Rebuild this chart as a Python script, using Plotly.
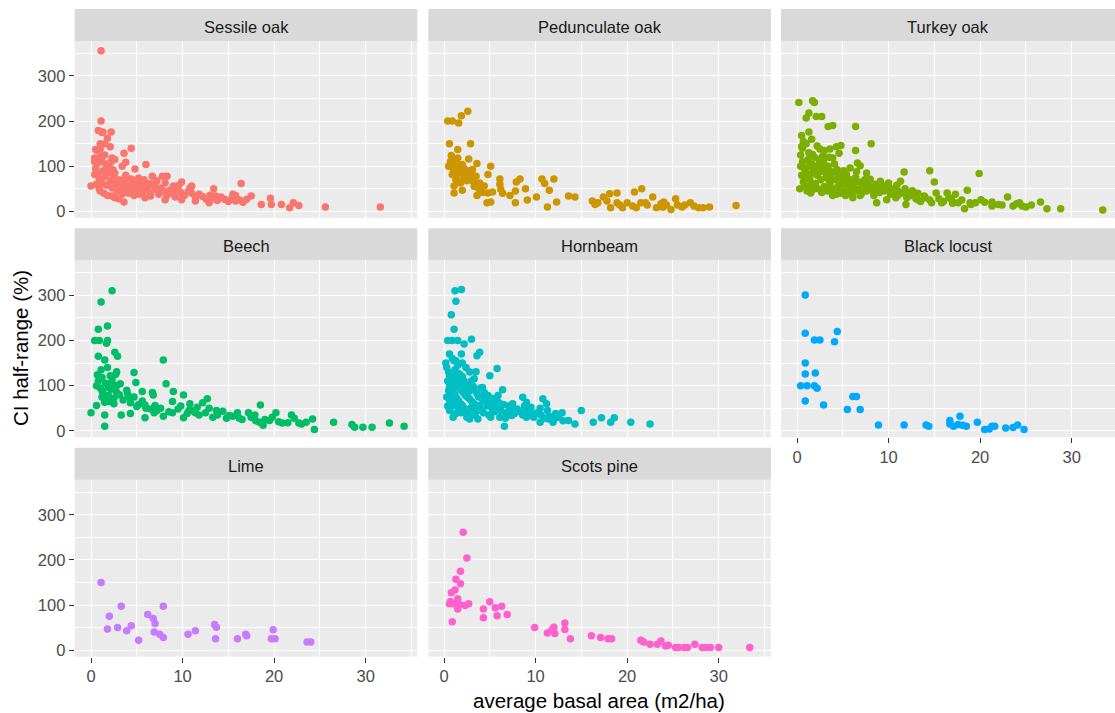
import plotly.graph_objects as go

species = ["Sessile oak", "Pedunculate oak", "Turkey oak", "Beech",
           "Hornbeam", "Black locust", "Lime", "Scots pine"]
colors = ["#F8766D", "#CD9600", "#7CAE00", "#00BE67",
          "#00BFC4", "#00A9FF", "#C77CFF", "#FF61CC"]

x_ticks = [0, 10, 20, 30]
y_ticks = [0, 100, 200, 300]

sessile_x = [1.1, 1.1, 0.8, 1.3, 2.2, 1.8, 1.5, 2.1, 0.5, 1.0, 4.4, 3.6, 0.4, 1.2, 2.3, 2.6, 0.8, 3.8, 1.9, 6.0,
             4.8, 3.4, 0.4, 2.6, 6.7, 7.8, 8.3, 0.0, 1.2, 3.7, 5.2, 5.6, 7.0, 9.9, 11.0, 16.4, 13.4, 2.3, 3.6, 4.8,
             6.5, 8.1, 9.9, 11.4, 12.9, 13.6, 15.5, 15.8, 17.5, 18.6, 19.6, 19.7, 20.8, 21.7, 22.1, 22.7, 25.6, 31.6,
             0.5, 0.7, 0.9, 1.1, 1.3, 1.5, 1.7, 1.9, 2.1, 2.3, 2.5, 2.7, 2.9, 3.1, 3.3, 3.5, 3.7, 3.9, 4.1, 4.3,
             4.5, 4.7, 4.9, 5.1, 5.3, 5.5, 5.7, 5.9, 6.2, 6.5, 6.8, 7.1, 7.4, 7.7, 8.0, 8.3, 8.6, 8.9, 9.2, 9.5,
             9.8, 10.2, 10.6, 11.0, 11.4, 11.8, 12.2, 12.6, 13.0, 13.4, 13.8, 14.2, 14.6, 15.0, 15.4, 15.8, 16.2,
             16.6, 17.0, 0.4, 0.8, 1.2, 1.6, 2.0, 2.4, 1.0, 1.4, 1.8, 2.6, 3.0, 3.4, 0.6, 0.9, 2.2, 1.5, 1.0, 1.2,
             0.7, 3.8, 4.4, 5.0, 5.8, 6.4, 7.2, 8.1, 9.0, 9.6, 10.8]
sessile_y = [356, 200, 179, 176, 176, 162, 150, 143, 137, 138, 140, 129, 118, 122, 118, 115, 107, 109, 100, 104,
             94, 100, 82, 85, 78, 78, 78, 56, 63, 71, 74, 60, 56, 65, 56, 62, 50, 34, 21, 41,
             34, 26, 26, 23, 19, 34, 38, 23, 34, 15, 29, 15, 15, 8, 19, 13, 10, 10,
             95, 85, 72, 65, 90, 78, 58, 85, 68, 52, 75, 60, 45, 70, 55, 42, 63, 50, 40, 58,
             47, 35, 60, 45, 38, 52, 44, 30, 50, 42, 60, 48, 38, 52, 44, 35, 47, 40, 32, 48,
             42, 35, 44, 40, 30, 38, 33, 27, 36, 28, 24, 32, 27, 22, 30, 35, 25,
             20, 27, 110, 118, 112, 105, 98, 92, 45, 40, 35, 30, 28, 38, 60, 50, 110, 125, 150, 175,
             135, 80, 72, 65, 70, 62, 68, 63, 56, 58, 52]

pedunculate_x = [0.4, 0.9, 1.6, 1.9, 2.6, 0.6, 1.5, 2.9, 0.8, 1.5, 2.7, 3.6, 0.5, 1.1, 2.0, 5.1, 1.8, 2.4, 3.1, 1.3,
                 2.2, 3.5, 4.8, 6.1, 8.3, 10.7, 12.0, 1.8, 3.9, 6.1, 7.9, 11.0, 1.1, 4.4, 6.2, 8.9, 11.5, 1.1, 2.0,
                 3.6, 4.8, 5.3, 7.2, 7.8, 6.4, 10.1, 9.1, 7.8, 4.7, 5.1, 11.3, 12.3, 13.6, 14.3, 16.2, 16.5, 17.4,
                 18.1, 18.9, 17.8, 18.2, 18.9, 19.5, 20.0, 20.8, 21.6, 20.6, 21.5, 22.2, 22.8, 23.2, 23.7, 24.3,
                 24.8, 25.3, 25.5, 26.3, 26.9, 27.8, 28.3, 29.0, 31.9,
                 0.7, 1.0, 1.2, 1.4, 1.6, 1.8, 2.0, 2.2, 2.4, 2.6, 2.8, 3.0, 1.3, 1.7, 2.1, 2.5, 3.2, 0.9, 1.1,
                 3.3, 3.8, 4.2, 16.8, 19.2, 22.0, 23.9, 26.0, 27.3, 21.0, 24.0]
pedunculate_y = [200, 200, 196, 212, 222, 150, 137, 150, 124, 118, 116, 106, 100, 101, 104, 100, 89, 89, 93, 78,
                 78, 78, 82, 72, 72, 72, 72, 63, 63, 60, 65, 62, 56, 56, 49, 50, 47, 41, 47,
                 35, 41, 43, 35, 45, 40, 32, 25, 19, 19, 21, 10, 21, 34, 32, 23, 15, 32,
                 39, 41, 23, 8, 19, 8, 19, 43, 50, 12, 19, 14, 32, 8, 17, 14,
                 4, 28, 14, 14, 19, 8, 8, 10, 13,
                 110, 95, 88, 105, 92, 98, 85, 95, 82, 90, 74, 85, 70, 66, 72, 68, 66, 82, 115,
                 55, 50, 42, 19, 14, 19, 9, 10, 12, 8, 21]

turkey_x = [0.2, 1.7, 1.9, 1.3, 1.0, 2.1, 2.7, 3.4, 3.9, 6.4, 1.3, 0.5, 0.7, 0.5, 8.1, 2.5, 3.6, 4.3, 4.8, 4.6,
            6.4, 1.7, 2.8, 3.9, 6.6, 0.4, 1.3, 2.4, 5.8, 6.9, 11.7, 14.5, 19.9, 15.0, 0.8, 1.7, 3.2, 4.7, 7.6,
            8.0, 9.1, 10.0, 11.3, 0.3, 1.5, 3.2, 4.3, 5.8, 6.9, 8.4, 9.5, 11.0, 12.6, 8.7, 9.8, 10.8, 11.9, 13.2,
            13.9, 14.7, 15.2, 15.8, 16.4, 16.9, 17.3, 17.6, 18.3, 18.6, 18.9, 19.5, 20.1, 21.3, 21.3, 22.4, 23.0,
            23.6, 24.3, 24.6, 25.6, 26.6, 27.3, 28.8, 33.4,
            0.4, 0.6, 0.8, 1.0, 1.2, 1.4, 1.6, 1.8, 2.0, 2.2, 2.4, 2.6, 2.8, 3.0, 3.2, 3.4, 3.6, 3.8, 4.0, 4.2,
            4.4, 4.6, 4.8, 5.0, 5.2, 5.4, 5.6, 5.8, 6.0, 6.2, 6.4, 6.6, 6.8, 7.0, 7.2, 7.4, 7.6, 7.8, 8.2, 8.6,
            9.0, 9.4, 9.8, 10.2, 10.6, 11.0, 11.5, 12.0, 12.5, 13.0, 13.5, 14.0, 14.5, 15.5, 16.0, 16.6, 17.0,
            18.0, 19.0, 20.5, 22.0, 24.0, 25.0, 0.5, 0.7, 0.9, 1.1, 1.3, 1.5, 1.7, 1.9, 2.1, 2.3, 2.5, 2.7, 2.9,
            3.1, 3.3, 3.5, 3.7, 3.9, 4.1, 4.3, 4.5, 4.7, 4.9, 5.1, 5.3, 5.5, 5.7, 5.9, 6.1, 6.3, 6.5, 6.9, 7.3,
            7.7, 8.4, 8.8, 9.2, 10.0, 10.4, 10.9, 11.8, 12.3, 13.2, 0.6, 1.0, 1.6, 2.2, 3.0, 3.5]
turkey_y = [241, 245, 241, 218, 207, 210, 210, 188, 190, 188, 176, 168, 155, 144, 150, 138, 138, 143, 146, 129,
            135, 126, 122, 118, 107, 100, 100, 104, 96, 101, 87, 90, 84, 65, 78, 85, 82, 78, 85,
            71, 67, 63, 67, 50, 41, 52, 38, 41, 35, 41, 45, 45, 46, 19, 26, 30, 15, 26,
            34, 19, 41, 19, 41, 26, 38, 19, 6, 47, 19, 19, 26, 21, 12, 14, 32,
            12, 19, 12, 14, 21, 6, 6, 3,
            125, 110, 95, 85, 115, 72, 105, 90, 62, 80, 115, 70, 95, 55, 75, 100, 60, 88, 48, 70,
            92, 58, 75, 45, 65, 82, 52, 70, 40, 60, 75, 48, 65, 38, 55, 70, 45, 58, 50, 60,
            42, 55, 48, 38, 50, 35, 40, 30, 35, 28, 22, 30, 25, 28, 22, 30, 18,
            25, 15, 20, 15, 17, 10, 80, 65, 55, 45, 130, 60, 48, 120, 100, 50, 88, 42, 110,
            90, 45, 70, 80, 35, 105, 52, 82, 40, 60, 90, 35, 72, 62, 55, 30, 45, 88, 50, 45,
            62, 35, 48, 60, 55, 45, 58, 50, 42, 40, 140, 150, 160, 145, 135, 120]

beech_x = [2.3, 1.1, 0.8, 1.8, 0.4, 0.9, 1.8, 1.7, 0.8, 1.5, 2.6, 2.9, 7.9, 0.7, 1.2, 2.1, 2.8, 4.7, 2.3, 3.2,
           4.9, 8.2, 1.2, 1.9, 2.8, 4.0, 5.6, 6.7, 9.0, 4.1, 6.8, 8.9, 10.1, 12.7, 0.6, 1.5, 2.5, 5.0, 5.9, 7.0,
           12.2, 18.5, 0.0, 1.5, 3.3, 4.3, 5.9, 6.9, 7.9, 8.9, 10.1, 10.7, 11.4, 13.3, 14.4, 15.1, 16.2, 17.2,
           17.6, 18.4, 18.8, 19.5, 20.2, 20.9, 21.9, 22.7, 23.5, 24.2, 24.4, 26.5, 28.5, 28.8, 29.7, 30.7,
           32.6, 34.2, 1.5,
           0.8, 1.0, 1.3, 1.6, 1.9, 2.2, 2.5, 2.8, 3.1, 3.5, 3.9, 4.3, 4.7, 5.2, 5.6, 6.0, 6.5, 7.2, 7.6, 8.5,
           9.5, 10.5, 11.0, 11.8, 12.5, 13.8, 14.8, 15.5, 16.5, 17.5, 18.0, 19.0, 20.5, 21.5, 23.0, 1.2, 1.5,
           2.0, 2.3, 2.7, 1.8, 0.6, 1.1, 9.8, 10.8, 11.6, 12.9, 13.7, 16.0, 17.9, 19.8, 22.2]
beech_y = [310, 285, 225, 232, 200, 200, 200, 194, 165, 157, 174, 165, 157, 124, 118, 122, 131, 129, 107, 104,
           107, 104, 89, 96, 85, 82, 87, 85, 87, 76, 79, 65, 79, 71, 56, 63, 60, 54, 57, 56,
           62, 57, 40, 35, 35, 38, 29, 40, 32, 40, 29, 45, 40, 30, 43, 34, 28, 40,
           30, 19, 12, 23, 40, 17, 35, 17, 19, 26, 3, 19, 14, 8, 8, 8,
           17, 10, 10,
           110, 95, 85, 105, 78, 92, 72, 100, 80, 68, 90, 62, 75, 58, 66, 50, 48, 45, 50, 42,
           48, 38, 45, 35, 40, 35, 28, 32, 25, 30, 22, 25, 20, 18, 15, 75, 70,
           65, 115, 125, 140, 100, 135, 55, 60, 52, 50, 45, 40, 35, 30, 28]

hornbeam_x = [1.2, 1.9, 1.3, 0.8, 1.1, 0.4, 0.9, 1.5, 2.2, 3.0, 0.6, 1.9, 3.6, 3.9, 0.2, 1.1, 2.0, 5.8, 0.6, 1.7,
              3.5, 5.0, 0.7, 2.0, 4.2, 6.4, 1.1, 2.4, 4.6, 5.9, 8.6, 10.8, 0.7, 2.0, 3.9, 7.2, 9.0, 11.2, 15.0,
              1.3, 2.8, 3.7, 5.1, 6.6, 7.4, 9.0, 10.0, 10.5, 11.4, 11.9, 12.9, 13.6, 14.3, 16.3, 17.2, 18.2,
              18.6, 20.4, 22.5,
              0.3, 0.5, 0.7, 0.9, 1.1, 1.3, 1.5, 1.7, 1.9, 2.1, 2.3, 2.5, 2.7, 2.9, 3.1, 3.3, 3.5, 3.7, 3.9, 4.1,
              0.4, 0.6, 0.8, 1.0, 1.2, 1.4, 1.6, 1.8, 2.0, 2.2, 2.4, 2.6, 0.5, 0.7, 0.9, 1.1, 1.3, 1.5, 1.7, 1.9,
              0.3, 0.6, 0.8, 1.0, 1.2, 1.4, 1.6, 1.8, 2.0, 2.2, 2.4, 2.6, 2.8, 3.0, 3.2, 3.4, 3.6, 3.8, 4.0, 4.2,
              4.4, 4.6, 4.8, 5.0, 5.2, 5.4, 5.6, 5.8, 6.0, 6.2, 6.5, 6.8, 7.1, 7.4, 7.7, 8.0, 8.3, 8.6, 9.0, 9.4,
              9.8, 10.2, 10.6, 11.0, 11.5, 12.0, 12.5, 13.0, 4.3, 4.9, 5.5, 6.1, 6.7, 3.0, 3.4, 2.5, 1.0, 1.5,
              2.8, 3.3, 0.4, 0.6, 2.9, 3.6, 4.7, 5.3, 7.5, 8.8, 9.5, 10.5, 11.3, 12.2, 0.9, 1.3, 2.4]
hornbeam_y = [310, 313, 287, 257, 225, 200, 200, 200, 192, 203, 170, 170, 166, 174, 150, 155, 150, 138, 122, 126,
              131, 122, 100, 101, 96, 91, 82, 78, 76, 78, 74, 71, 52, 56, 56, 56, 63, 60, 45,
              38, 26, 26, 30, 10, 34, 30, 38, 19, 26, 19, 40, 23, 15, 19, 29, 19,
              29, 19, 15,
              140, 130, 125, 118, 112, 106, 100, 95, 90, 85, 80, 76, 72, 68, 64, 60, 56, 52, 48, 45,
              110, 100, 95, 88, 80, 72, 66, 60, 55, 50, 46, 42, 90, 80, 72, 65, 58, 52, 46, 40,
              75, 68, 60, 120, 135, 128, 115, 108, 120, 110, 102, 95, 88, 110, 98, 90, 82, 75, 95, 70,
              85, 65, 78, 60, 72, 55, 68, 50, 62, 45, 58, 40, 52, 45, 38, 48, 42, 35, 45, 38,
              30, 40, 35, 28, 32, 25, 30, 22, 40, 35, 42, 30, 28, 40, 35, 30, 30, 145,
              130, 115, 55, 45, 50, 45, 55, 48, 60, 55, 52, 50, 45, 38, 160, 155, 140]

locust_x = [0.9, 0.9, 1.9, 2.5, 4.1, 4.4, 0.9, 0.9, 2.0, 0.4, 1.1, 1.9, 2.2, 0.9, 2.9, 6.1, 6.5, 5.5, 6.9, 8.9,
            11.7, 14.1, 14.4, 16.7, 16.7, 17.1, 17.6, 17.8, 18.1, 18.5, 19.7, 20.5, 21.0, 21.3, 21.6, 22.8,
            23.6, 24.1, 24.8]
locust_y = [301, 216, 201, 201, 197, 220, 150, 126, 128, 100, 100, 100, 94, 66, 57, 76, 76, 47, 47, 13,
            13, 13, 10, 23, 15, 10, 14, 32, 12, 10, 19, 3, 4, 10, 10, 6,
            7, 13, 3]

lime_x = [1.1, 3.3, 7.9, 2.0, 6.2, 6.8, 7.0, 1.8, 2.9, 3.9, 4.4, 5.2, 6.9, 7.5, 7.9, 10.6, 11.4, 13.5, 13.7, 13.6,
          16.0, 16.9, 17.0, 19.9, 19.7, 20.1, 23.6, 24.0]
lime_y = [150, 97, 97, 75, 79, 70, 59, 47, 50, 43, 54, 22, 40, 35, 28, 35, 43, 57, 51, 25,
          25, 35, 32, 45, 25, 25, 18, 18]

pine_x = [2.1, 2.5, 1.8, 1.3, 1.8, 0.8, 1.2, 1.5, 0.7, 1.0, 1.7, 2.3, 2.7, 1.5, 0.9, 0.6, 5.0, 4.3, 5.6, 6.3,
          4.3, 5.8, 6.9, 9.9, 11.3, 11.8, 12.0, 12.1, 13.2, 13.2, 13.8, 16.1, 17.1, 17.9, 18.3, 21.5, 21.8,
          22.5, 23.3, 23.7, 24.2, 24.5, 25.3, 25.6, 26.2, 26.6, 27.4, 28.2, 28.6, 29.1, 30.0, 33.4]
pine_y = [261, 204, 175, 157, 147, 127, 133, 114, 108, 103, 101, 99, 103, 91, 63, 103, 107, 91, 94, 97,
          72, 76, 79, 50, 38, 45, 51, 37, 60, 46, 25, 32, 28, 25, 25, 22, 18,
          13, 13, 20, 9, 11, 6, 6, 6, 6, 13, 6, 6, 6, 6, 6]

series_x = [sessile_x, pedunculate_x, turkey_x, beech_x, hornbeam_x, locust_x, lime_x, pine_x]
series_y = [sessile_y, pedunculate_y, turkey_y, beech_y, hornbeam_y, locust_y, lime_y, pine_y]

W, H = 1115, 713
col_left = [74.7, 428.3, 781.0]
col_right = [417.3, 770.9, 1115.0]
col_zero = [91.0, 444.0, 797.0]
px_per_unit = 9.155
row_top = [41.0, 261.0, 481.0]
row_bottom = [218.5, 438.5, 658.5]
strip_h = 32.0
y_range = [-14.4, 377.7]

FONT = "Liberation Sans, Arial, sans-serif"
fig = go.Figure()
shapes = []
annotations = []
x_label_panels = {5, 6, 7}

for i, name in enumerate(species):
    r, c = divmod(i, 3)
    xa = "x" if i == 0 else f"x{i+1}"
    ya = "y" if i == 0 else f"y{i+1}"
    fig.add_trace(go.Scatter(
        x=series_x[i], y=series_y[i], mode="markers", xaxis=xa, yaxis=ya,
        marker=dict(color=colors[i], size=7.5, line=dict(width=0)),
        showlegend=False, hoverinfo="x+y"))
    xr = [(col_left[c] - col_zero[c]) / px_per_unit, (col_right[c] - col_zero[c]) / px_per_unit]
    xkey = "xaxis" if i == 0 else f"xaxis{i+1}"
    ykey = "yaxis" if i == 0 else f"yaxis{i+1}"
    show_x = i in x_label_panels
    show_y = c == 0
    fig.update_layout(**{
        xkey: dict(domain=[col_left[c] / W, col_right[c] / W], range=xr, anchor=ya,
                   tickvals=x_ticks, showgrid=True, gridcolor="white", gridwidth=1.4,
                   zeroline=False, showline=False,
                   minor=dict(dtick=5, tick0=0, showgrid=True, gridcolor="white", gridwidth=0.7),
                   showticklabels=show_x, ticks="outside" if show_x else "",
                   ticklen=5, tickwidth=1, tickcolor="#333333",
                   tickfont=dict(size=16.5, color="#4D4D4D", family=FONT)),
        ykey: dict(domain=[1 - row_bottom[r] / H, 1 - row_top[r] / H], range=y_range, anchor=xa,
                   tickvals=y_ticks, showgrid=True, gridcolor="white", gridwidth=1.4,
                   zeroline=False, showline=False,
                   minor=dict(dtick=50, tick0=0, showgrid=True, gridcolor="white", gridwidth=0.7),
                   showticklabels=show_y, ticks="outside" if show_y else "",
                   ticklen=5, tickwidth=1, tickcolor="#333333",
                   tickfont=dict(size=16.5, color="#4D4D4D", family=FONT)),
    })
    st_top = row_top[r] - strip_h
    shapes.append(dict(type="rect", xref="paper", yref="paper",
                       x0=col_left[c] / W, x1=col_right[c] / W,
                       y0=1 - row_top[r] / H, y1=1 - st_top / H,
                       fillcolor="#D9D9D9", line=dict(width=0), layer="below"))
    full_right = col_left[c] + 342.6
    annotations.append(dict(text=name, xref="paper", yref="paper",
                            x=(col_left[c] + min(full_right, W)) / 2 / W,
                            y=1 - (st_top + strip_h / 2 + 2) / H,
                            showarrow=False, xanchor="center", yanchor="middle",
                            font=dict(size=16.5, color="#1A1A1A", family=FONT)))

annotations.append(dict(text="average basal area (m2/ha)", xref="paper", yref="paper",
                        x=599 / W, y=1 - 702 / H, showarrow=False,
                        xanchor="center", yanchor="middle",
                        font=dict(size=20.5, color="black", family=FONT)))
annotations.append(dict(text="CI half-range (%)", xref="paper", yref="paper",
                        x=20 / W, y=1 - 349 / H, showarrow=False, textangle=-90,
                        xanchor="center", yanchor="middle",
                        font=dict(size=20.5, color="black", family=FONT)))

fig.update_layout(width=W, height=H, margin=dict(l=0, r=0, t=0, b=0, pad=0),
                  paper_bgcolor="white", plot_bgcolor="#EBEBEB",
                  shapes=shapes, annotations=annotations,
                  font=dict(family=FONT))

fig.write_html("out.html")
